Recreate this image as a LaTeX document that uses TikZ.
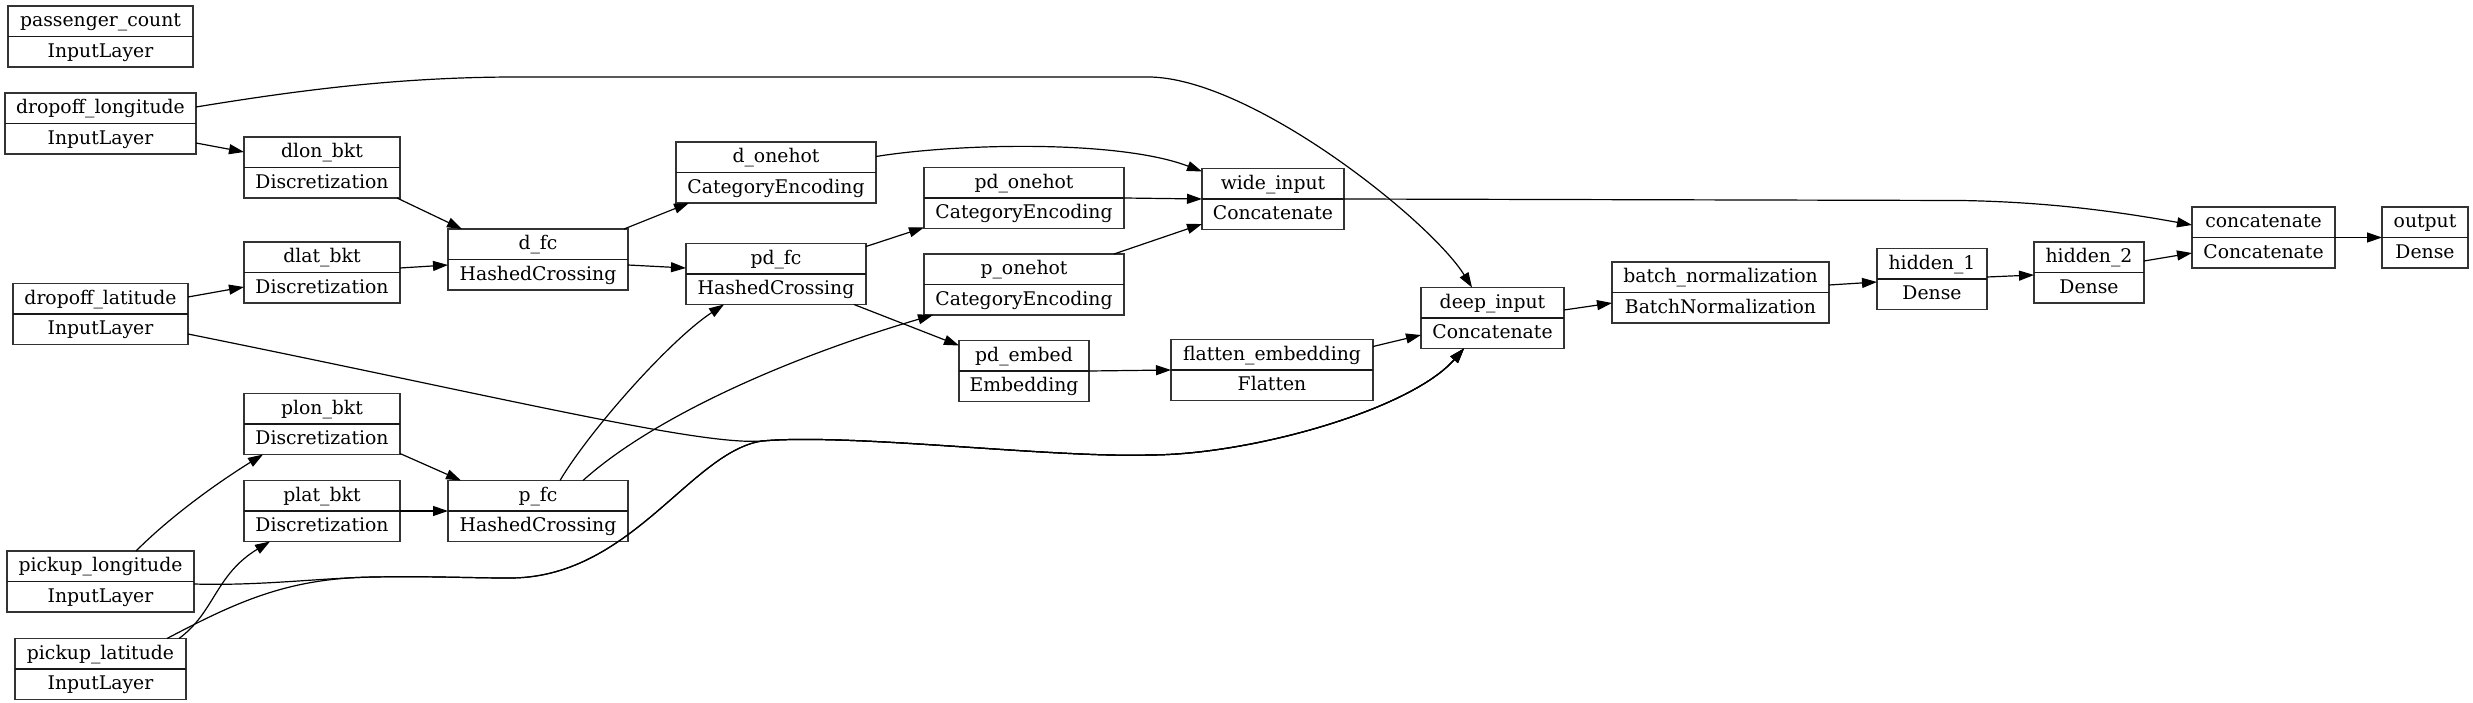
\documentclass[tikz,border=0pt]{standalone}
\usepackage{fontspec}
\setmainfont{DejaVu Serif}
\usetikzlibrary{arrows.meta,calc}
\newcommand{\lyr}[6]{%
  \node[lbox, minimum width=#4pt] (#1) at (#2,#3) {};
  \draw[lline] (#1.west) -- (#1.east);
  \node[ltxt] (#1-t) at ($(#1.center)+(0,-9.75)$) {#5};
  \node[ltxt] (#1-b) at ($(#1.center)+(0,20.75)$) {#6};
}
\begin{document}
\begin{tikzpicture}[x=1pt,y=-1pt,
  lbox/.style={draw=black!80, line width=1.5pt, minimum height=61pt, inner sep=0pt, outer sep=0pt},
  lline/.style={draw=black!90, line width=1.8pt},
  ltxt/.style={anchor=base, inner sep=0pt, font=\fontsize{18.8}{22}\selectfont},
  conn/.style={draw=black, line width=1.2pt, -{Triangle[length=15pt,width=10pt]}}]
\useasboundingbox[fill=white] (0,0) rectangle (2473,703);

% nodes: name, cx, cy, width, top, bottom
\lyr{pc}{100.5}{36.5}{185}{passenger\_count}{InputLayer}
\lyr{dlon}{100.5}{123.5}{191}{dropoff\_longitude}{InputLayer}
\lyr{dlat}{100.5}{314}{175}{dropoff\_latitude}{InputLayer}
\lyr{plon}{100.5}{581.5}{187}{pickup\_longitude}{InputLayer}
\lyr{plat}{100.5}{669}{171}{pickup\_latitude}{InputLayer}
\lyr{dlonb}{322}{167.5}{156}{dlon\_bkt}{Discretization}
\lyr{dlatb}{322}{272.5}{156}{dlat\_bkt}{Discretization}
\lyr{plonb}{322}{424}{156}{plon\_bkt}{Discretization}
\lyr{platb}{322}{511}{156}{plat\_bkt}{Discretization}
\lyr{dfc}{538}{259.5}{180}{d\_fc}{HashedCrossing}
\lyr{pfc}{538}{511}{180}{p\_fc}{HashedCrossing}
\lyr{doh}{776}{172.5}{200}{d\_onehot}{CategoryEncoding}
\lyr{pdfc}{776}{274}{180}{pd\_fc}{HashedCrossing}
\lyr{pdoh}{1024}{198}{200}{pd\_onehot}{CategoryEncoding}
\lyr{poh}{1024}{284.5}{200}{p\_onehot}{CategoryEncoding}
\lyr{pde}{1024}{371}{130}{pd\_embed}{Embedding}
\lyr{wide}{1273}{199}{142}{wide\_input}{Concatenate}
\lyr{flat}{1272}{370}{202}{flatten\_embedding}{Flatten}
\lyr{deep}{1492.5}{318}{143}{deep\_input}{Concatenate}
\lyr{bn}{1720.5}{292.5}{217}{batch\_normalization}{BatchNormalization}
\lyr{hone}{1932}{279}{110}{hidden\_1}{Dense}
\lyr{htwo}{2089}{272.5}{110}{hidden\_2}{Dense}
\lyr{cat}{2263.5}{237.5}{143}{concatenate}{Concatenate}
\lyr{out}{2425}{237.5}{86}{output}{Dense}

% connectors
\draw[conn] ($(dlon.east)+(0,19.5)$) -- ($(dlonb.west)+(0,-15.5)$);
\draw[conn] ($(dlon.east)+(0,-16.5)$) .. controls (300,90) and (400,77) .. (517,77)
   -- (1148,77) .. controls (1250,77) and (1430,220) .. ($(deep.north west)+(51,0)$);
\draw[conn] ($(dlat.east)+(0,-17)$) -- ($(dlatb.west)+(0,14.5)$);
\draw[conn] ($(dlat.east)+(0,20)$) .. controls (500,397) and (700,446) .. (762,441)
   .. controls (850,433) and (1050,458) .. (1149,455)
   .. controls (1250,455) and (1410,410) .. ($(deep.south west)+(43,0)$);
\draw[conn] ($(dlonb.south east)+(-3,0)$) -- ($(dfc.north west)+(14,0)$);
\draw[conn] ($(dlatb.east)+(0,-4.5)$) -- ($(dfc.west)+(0,5.5)$);
\draw[conn] ($(dfc.north east)+(-4,0)$) -- ($(doh.south west)+(13,0)$);
\draw[conn] ($(dfc.east)+(0,5.5)$) -- ($(pdfc.west)+(0,-6)$);
\draw[conn] ($(pdfc.north east)+(0,3)$) -- ($(pdoh.south west)+(0,-1)$);
\draw[conn] ($(pdfc.south east)+(-12,0)$) -- ($(pde.north west)+(0,5)$);
\draw[conn] ($(doh.east)+(0,-16)$) .. controls (960,143) and (1120,140) .. ($(wide.north west)+(0,3)$);
\draw[conn] (pdoh.east) -- (wide.west);
\draw[conn] ($(poh.north east)+(-10,0)$) -- ($(wide.west)+(0,25)$);
\draw[conn] (wide.east) -- (1961,200.5) .. controls (2050,202) and (2120,212) .. ($(cat.west)+(0,-12.5)$);
\draw[conn] ($(plon.north east)+(-58,0)$) .. controls (175,512) and (225,478) .. ($(plonb.south west)+(19,0)$);
\draw[conn] ($(plon.east)+(0,2.5)$) .. controls (260,586) and (320,578) .. (374,577)
   .. controls (430,576) and (470,578) .. (507,578)
   .. controls (630,580) and (690,452) .. (762,441)
   .. controls (850,433) and (1050,458) .. (1149,455)
   .. controls (1250,455) and (1410,410) .. ($(deep.south west)+(43,0)$);
\draw[conn] ($(plat.north east)+(-7,0)$) .. controls (215,612) and (215,575) .. ($(platb.south west)+(26,0)$);
\draw[conn] ($(plat.north east)+(-19,0)$) .. controls (240,600) and (290,578) .. (374,577)
   .. controls (430,576) and (470,578) .. (507,578)
   .. controls (630,580) and (690,452) .. (762,441)
   .. controls (850,433) and (1050,458) .. (1149,455)
   .. controls (1250,455) and (1410,410) .. ($(deep.south west)+(43,0)$);
\draw[conn] ($(plonb.south east)+(0,-1)$) -- ($(pfc.north west)+(13,0)$);
\draw[conn] (platb.east) -- (pfc.west);
\draw[conn] ($(pfc.north west)+(112,0)$) .. controls (590,430) and (670,340) .. ($(pdfc.south west)+(38,0)$);
\draw[conn] ($(pfc.north west)+(135,0)$) .. controls (650,420) and (780,360) .. ($(poh.south west)+(9,0)$);
\draw[conn] (pde.east) -- (flat.west);
\draw[conn] ($(flat.north east)+(0,7)$) -- ($(deep.west)+(0,17)$);
\draw[conn] ($(deep.east)+(0,-8)$) -- ($(bn.west)+(0,10.5)$);
\draw[conn] ($(bn.east)+(0,-7.5)$) -- ($(hone.west)+(0,3)$);
\draw[conn] ($(hone.east)+(0,-2)$) -- ($(htwo.west)+(0,2.5)$);
\draw[conn] ($(htwo.east)+(0,-11.5)$) -- ($(cat.west)+(0,15.5)$);
\draw[conn] (cat.east) -- (out.west);
\end{tikzpicture}
\end{document}
